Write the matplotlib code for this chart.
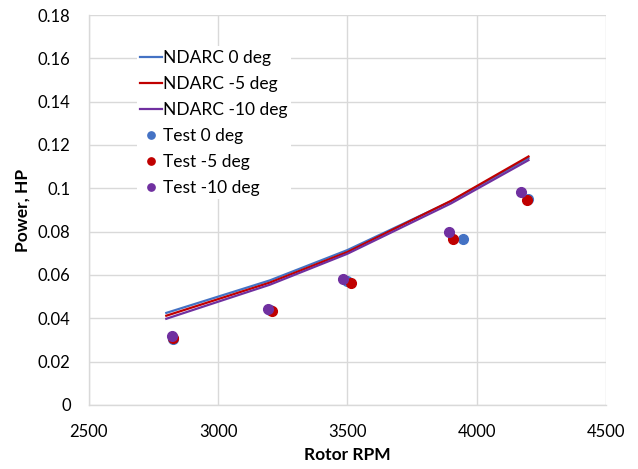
import matplotlib
matplotlib.use("Agg")
import matplotlib.pyplot as plt

plt.rcParams['font.family'] = ['Lato', 'DejaVu Sans']

rpm_model = [2800, 3200, 3500, 3900, 4200]
ndarc_0 = [0.0425, 0.0575, 0.0715, 0.0940, 0.1140]
ndarc_m5 = [0.0412, 0.0565, 0.0706, 0.0942, 0.1147]
ndarc_m10 = [0.0398, 0.0555, 0.0698, 0.0930, 0.1130]

rpm_t0 = [2826, 3202, 3500, 3948, 4199]
test_0 = [0.0303, 0.0440, 0.0570, 0.0768, 0.0953]
rpm_tm5 = [2826, 3209, 3515, 3910, 4193]
test_m5 = [0.0310, 0.0434, 0.0562, 0.0768, 0.0945]
rpm_tm10 = [2822, 3194, 3484, 3894, 4172]
test_m10 = [0.0318, 0.0445, 0.0580, 0.0798, 0.0983]

c_blue = '#4472C4'
c_red = '#C00000'
c_purple = '#7030A0'

fig = plt.figure(figsize=(6.38, 4.69), dpi=100)
ax = fig.add_axes([0.139, 0.1365, 0.811, 0.8315])

ax.plot(rpm_model, ndarc_0, color=c_blue, lw=1.6, label='NDARC 0 deg')
ax.plot(rpm_model, ndarc_m5, color=c_red, lw=1.6, label='NDARC -5 deg')
ax.plot(rpm_model, ndarc_m10, color=c_purple, lw=1.6, label='NDARC -10 deg')
ax.plot(rpm_t0, test_0, 'o', color=c_blue, ms=7, label='Test 0 deg')
ax.plot(rpm_tm5, test_m5, 'o', color=c_red, ms=7, label='Test -5 deg')
ax.plot(rpm_tm10, test_m10, 'o', color=c_purple, ms=7, label='Test -10 deg')

ax.set_xlim(2500, 4500)
ax.set_ylim(0, 0.18)
ax.set_xticks([2500, 3000, 3500, 4000, 4500])
ax.set_yticks([0, 0.02, 0.04, 0.06, 0.08, 0.1, 0.12, 0.14, 0.16, 0.18])
ax.set_yticklabels(['0', '0.02', '0.04', '0.06', '0.08', '0.1', '0.12', '0.14', '0.16', '0.18'])
ax.tick_params(axis='both', length=0, labelsize=12, colors='#000000')
ax.tick_params(axis='y', pad=13)
ax.tick_params(axis='x', pad=14)
ax.grid(True, color='#D9D9D9', lw=1)
ax.set_axisbelow(True)
for s in ['top', 'right']:
    ax.spines[s].set_visible(False)
for s in ['left', 'bottom']:
    ax.spines[s].set_color('#D9D9D9')
    ax.spines[s].set_linewidth(1)

ax.set_xlabel('Rotor RPM', fontsize=12.5, fontweight='bold', labelpad=4.5)
ax.set_ylabel('Power, HP', fontsize=12.5, fontweight='bold', labelpad=5.5)

leg = ax.legend(loc='upper left', bbox_to_anchor=(0.093, 0.92), frameon=True,
                fontsize=12.5, handlelength=1.25, handletextpad=0.05,
                labelspacing=0.58, markerscale=0.75, borderpad=0.2,
                borderaxespad=0)
leg.get_frame().set_facecolor('white')
leg.get_frame().set_edgecolor('none')
leg.get_frame().set_alpha(1)
leg.get_frame().set_boxstyle('square', pad=0)

fig.savefig('out.png', dpi=100)
